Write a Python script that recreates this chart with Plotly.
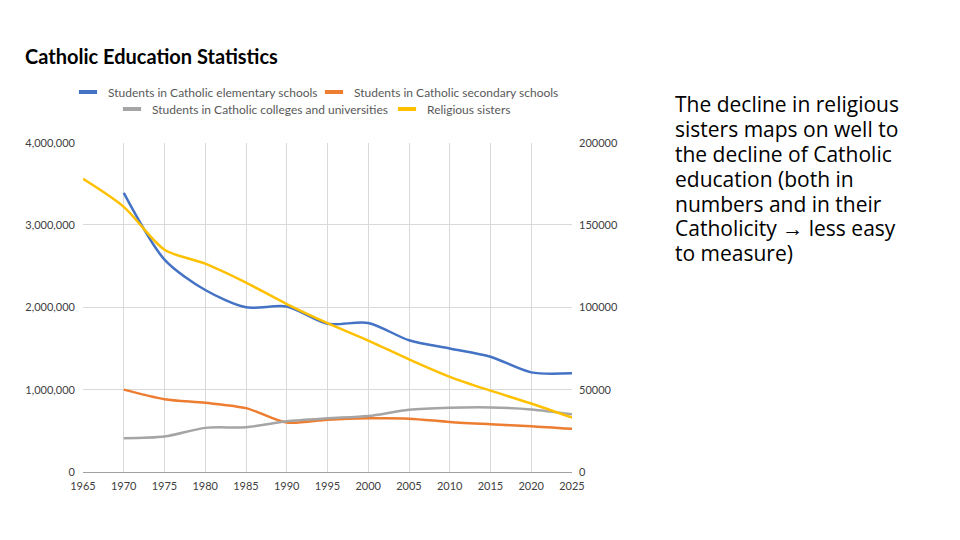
import plotly.graph_objects as go

# Dane
years = [1970, 1975, 1980, 1985, 1990, 1995, 2000, 2005, 2010, 2015, 2020, 2025]
elementary = [3390000, 2580000, 2210000, 2000000, 2010000, 1800000, 1810000, 1600000, 1500000, 1400000, 1210000, 1200000]
secondary = [1000000, 884000, 840000, 776000, 600000, 636000, 652000, 648000, 608000, 580000, 556000, 524000]
colleges = [410000, 430000, 536000, 544000, 616000, 652000, 680000, 756000, 780000, 784000, 760000, 700000]

sister_years = [1965, 1970, 1975, 1980, 1985, 1990, 1995, 2000, 2005, 2010, 2015, 2020, 2025]
sisters = [178000, 161000, 135000, 126500, 115000, 102000, 90400, 79800, 68400, 57800, 49400, 41600, 33000]

names = ['Students in Catholic elementary schools', 'Students in Catholic secondary schools',
         'Students in Catholic colleges and universities', 'Religious sisters']
colors = ['#4472C4', '#ED7D31', '#A5A5A5', '#FFC000']

note_lines = ['The decline in religious', 'sisters maps on well to', 'the decline of Catholic',
              'education (both in', 'numbers and in their', 'Catholicity \u2192 less easy', 'to measure)']

# obszar wykresu w pikselach
W, H = 960, 540
L, R, T, B = 83, 388, 138, 68
pw, ph = W - L - R, H - T - B

# polozenie wpisow legendy (lewa krawedz, srodek w pionie) - dwa rzedy jak w Excelu
legend_pos = [(68, 92), (314, 92), (112, 109), (387, 109)]

fig = go.Figure()

series = [(years, elementary, 'y'), (years, secondary, 'y'), (years, colleges, 'y'), (sister_years, sisters, 'y2')]
for (xs, ys, ax), name, col in zip(series, names, colors):
    fig.add_trace(go.Scatter(x=xs, y=ys, yaxis=ax, mode='lines', name=name, showlegend=False,
                             line=dict(color=col, width=2.5, shape='spline', smoothing=0.8)))

# wpisy legendy (krotki gruby znacznik), kazdy w osobnej legendzie
legends = {}
for i, (name, col) in enumerate(zip(names, colors)):
    key = 'legend' if i == 0 else 'legend%d' % (i + 1)
    fig.add_trace(go.Scatter(x=[None], y=[None], mode='markers', name=name, legend=key,
                             marker=dict(symbol='line-ew', size=13, color=col,
                                         line=dict(color=col, width=4))))
    lx, ly = legend_pos[i]
    legends[key] = dict(orientation='h', x=lx / W, y=1 - ly / H, xanchor='left', yanchor='middle',
                        xref='container', yref='container', bgcolor='rgba(0,0,0,0)', itemwidth=30,
                        font=dict(family='Lato', size=12, color='#595959'))

tick_font = dict(family='Lato', size=11, color='#404040')

# tekst po prawej - kazda linia osobno, zeby trzymac odstep jak w oryginale
notes = []
for i, line in enumerate(note_lines):
    ypx = 99 + i * 25.2
    notes.append(dict(text=line, x=(673 - L) / pw, y=(H - B - ypx) / ph, xref='paper', yref='paper',
                      xanchor='left', yanchor='middle', align='left', showarrow=False,
                      font=dict(family='Open Sans', size=21, color='#000000')))

fig.update_layout(
    width=W, height=H,
    paper_bgcolor='white', plot_bgcolor='white',
    margin=dict(l=L, r=R, t=T, b=B),
    title=dict(text='<b>Catholic Education Statistics</b>', x=25 / W, xanchor='left',
               y=1 - 57 / H, yanchor='middle', font=dict(family='Lato', size=20, color='#000000')),
    xaxis=dict(range=[1965, 2025], dtick=5, tick0=1965, showgrid=True, gridcolor='#D9D9D9', gridwidth=1,
               showline=True, linecolor='#A0A0A0', linewidth=1, zeroline=False, ticks='',
               ticklabelstandoff=4, tickfont=tick_font),
    yaxis=dict(range=[0, 4000000], dtick=1000000, tickformat=',', showgrid=True, gridcolor='#D9D9D9',
               zeroline=False, showline=False, ticks='', ticklabelstandoff=7, tickfont=tick_font),
    yaxis2=dict(range=[0, 200000], dtick=50000, tickformat='d', overlaying='y', side='right',
                showgrid=False, zeroline=False, showline=False, ticks='', ticklabelstandoff=6,
                tickfont=tick_font),
    annotations=notes,
    **legends,
)

# bez domyslnego marginesu strony, zeby wykres lezal dokladnie w oknie 960x540
fig.write_html('out.html', config={'displayModeBar': False},
               post_script="document.body.style.margin='0';")
